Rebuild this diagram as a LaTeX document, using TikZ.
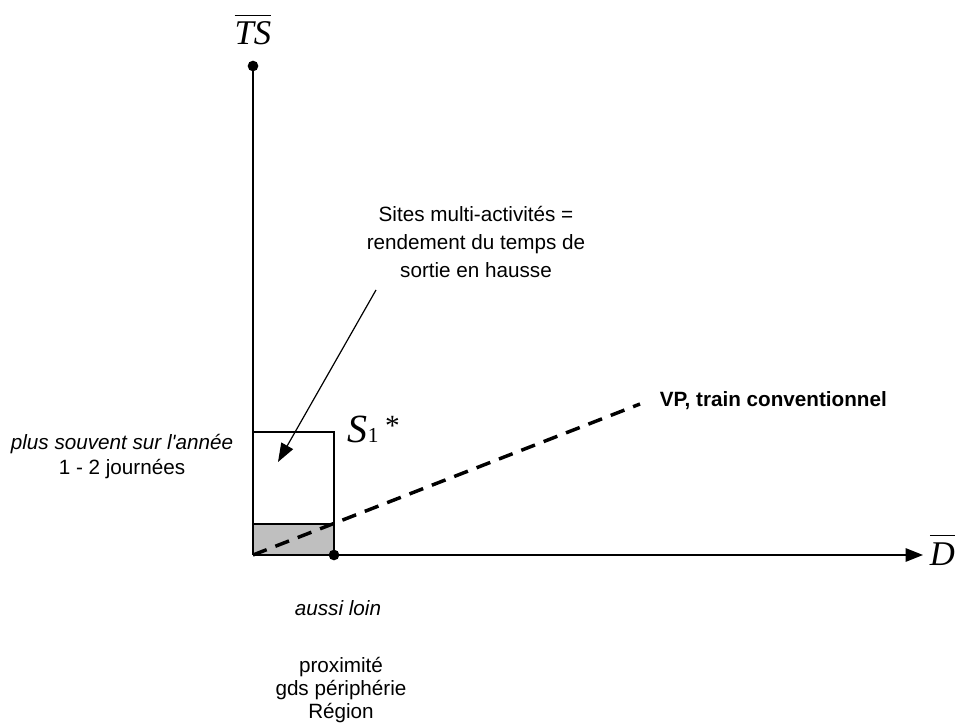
\documentclass[tikz,border=0pt]{standalone}
\usepackage{fontspec}
\setmainfont{Liberation Sans}
\newfontfamily\timesfont{Liberation Serif}
\usetikzlibrary{arrows.meta}

\newcommand{\barlbl}[1]{$\overline{\mbox{\rule{0pt}{0.8em}\timesfont\itshape #1}}$}

\begin{document}
\begin{tikzpicture}[x=0.75pt, y=-0.75pt, line width=1.2pt,
	lbl/.style = {inner sep=0pt, align=center, font=\fontsize{15.5}{18.75}\selectfont},
	axislbl/.style = {inner sep=0pt, font=\fontsize{26}{30}\selectfont},
	dot/.style = {fill, circle, inner sep=0pt, minimum size=8pt},
	tip/.style = {-{Triangle[length=13pt, width=10pt]}}]
	
	\useasboundingbox (0,0) rectangle (958,724);
	
	% Axes
	\coordinate (O) at (253,555);
	\coordinate (tstop) at (253,66);
	\coordinate (dend) at (923,555);
	\coordinate (dmark) at (334,555);
	
	% Grey box below the line
	\fill[gray!50] (O) rectangle (334,524);
	\coordinate (boxtop) at (334,432);
	\coordinate (boxleft) at (253,432);
	\draw (boxleft) -- (boxtop) -- (dmark);
	\draw (253,524) -- (334,524);
	
	\draw (O) -- (tstop);
	\draw[tip] (O) -- (dend);
	\node[dot] (tsdot) at (tstop) {};
	\node[dot] (ddot) at (dmark) {};
	
	% Axis labels
	\node[axislbl, anchor=base] (tslbl) at (253,45) {\barlbl{TS}};
	\node[axislbl, anchor=base west] (dlbl) at (929,565) {\barlbl{D}};
	
	% Dashed line
	\coordinate (vpend) at (640,404);
	\draw[line width=2.6pt, dash pattern=on 11pt off 7pt] (O) -- (vpend);
	\node[lbl, anchor=west, font=\fontsize{15.5}{18.75}\selectfont\bfseries] (vp) at (659,401) {VP, train conventionnel};
	
	% S1 star
	\node[inner sep=0pt, anchor=base west] (sone) at (347,442)
		{\timesfont\fontsize{30}{34}\selectfont\textit{S}{\fontsize{16}{18}\selectfont 1}\hspace{5pt}\raisebox{5pt}{\fontsize{22}{26}\selectfont *}};
	
	% Comment and arrow
	\node[lbl, font=\fontsize{15.5}{21}\selectfont] (sites) at (476,242)
		{Sites multi-activités =\\rendement du temps de\\sortie en hausse};
	\coordinate (arrstart) at (376,290);
	\coordinate (arrend) at (278,462);
	\draw[line width=0.9pt, -{Triangle[length=14pt, width=10pt]}] (arrstart) -- (arrend);
	
	% Left labels
	\node[lbl] (often) at (122,457) {\itshape plus souvent sur l\textquotesingle année\\1 - 2 journées};
	
	% Bottom labels
	\node[lbl] (far) at (338,608) {\itshape aussi loin};
	\node[lbl, font=\fontsize{15.5}{17.25}\selectfont] (places) at (341,690) {proximité\\gds périphérie\\Région};
	
\end{tikzpicture}
\end{document}
